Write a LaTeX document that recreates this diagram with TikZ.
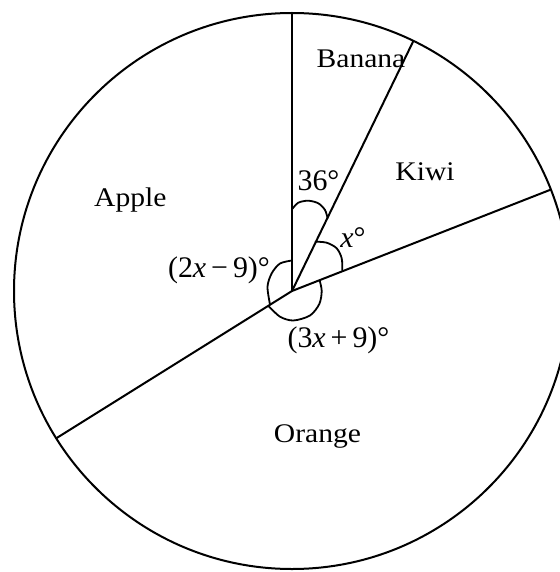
\documentclass[tikz,border=0pt]{standalone}
\usepackage{fontspec}
\setmainfont{Liberation Serif}
\newfontfamily\wordfont[FakeStretch=1.1]{Liberation Serif}
\begin{document}
\begin{tikzpicture}[x=1bp,y=-1bp,line width=2bp,line cap=round,line join=round,
  word/.style={font=\wordfont\fontsize{27}{30}\selectfont,anchor=base,inner sep=0pt},
  lab/.style={font=\fontsize{30}{33}\selectfont,anchor=base,inner sep=0pt},
  anglemark/.style={line width=1.8bp}]
\useasboundingbox (0,0) rectangle (560,572);
\clip (0,0) rectangle (560,572);
% centre and rim points
\coordinate (O) at (292,291);
\coordinate (Ptop) at (292,13);
\coordinate (Pban) at (413.4,40.9);
\coordinate (Pkiwi) at (550.8,189.6);
\coordinate (Papple) at (56.2,438.3);
% circle and radii
\draw (O) circle[radius=278];
\draw (O) -- (Ptop);
\draw (O) -- (Pban);
\draw (O) -- (Pkiwi);
\draw (O) -- (Papple);
% angle marks
\draw[anglemark] plot[smooth] coordinates {(292,209.3) (298.3,202.7) (308.3,200.7) (318.3,203.3) (325,210) (327.6,218.3)};
\draw[anglemark] plot[smooth] coordinates {(315.5,241.7) (326.7,242.7) (336.7,248.3) (341.7,258.3) (342.3,270.3)};
\draw[anglemark] plot[smooth] coordinates {(292,260.5) (280,263.5) (271.7,273.3) (267.5,286.7) (270,304.5)};
\draw[anglemark] plot[smooth] coordinates {(268.5,306) (280,316.7) (293.3,320.5) (310,315.5) (319.3,304) (321.7,291) (319.6,280.3)};
% labels
\node[word] (banana) at (361,68) {Banana};
\node[word] (kiwi) at (425,180.5) {Kiwi};
\node[word] (apple) at (130.4,206) {Apple};
\node[word] (orange) at (317.5,442) {Orange};
\node[lab] (a36) at (318.5,190) {36°};
\node[lab] (ax) at (353,247) {\textit{x}°};
\node[lab] (a2x) at (219,277) {(2\textit{x}\,−\,9)°};
\node[lab] (a3x) at (338.5,347) {(3\textit{x}\,+\,9)°};
\end{tikzpicture}
\end{document}
